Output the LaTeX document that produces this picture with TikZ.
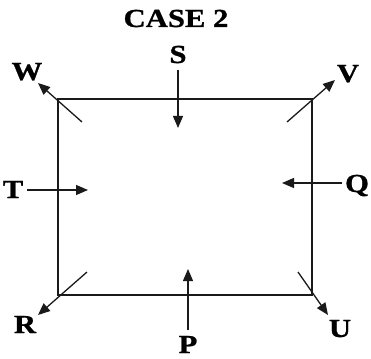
\documentclass[tikz,border=0pt]{standalone}
\usepackage{fontspec}
\setmainfont{Liberation Serif}[FakeStretch=1.18,FakeBold=1]
\usepackage{tikz}
\usetikzlibrary{arrows.meta}
\usepackage{xcolor}
\definecolor{ink}{HTML}{1A1A1A}
\tikzset{
  lbl/.style={font=\fontsize{26}{26}\selectfont\bfseries,inner sep=0pt,
    anchor=base,text=black},
  fedge/.style={-{Triangle[length=12pt,width=10pt]},line width=1.3pt,color=ink},
  frame/.style={line width=1.4pt,color=ink},
}
\begin{document}
\begin{tikzpicture}[x=1pt,y=-1pt]
  \useasboundingbox (0,0) rectangle (371,358);
  \coordinate (nw) at (58,99); \coordinate (ne) at (312,99);
  \coordinate (se) at (312,295); \coordinate (sw) at (58,295);
  \draw[frame] (nw)--(ne)--(se)--(sw)--cycle;
  \node[lbl] (case) at (176,27){CASE 2};
  \node[lbl] (S) at (178,63){S}; \node[lbl] (W) at (27,80){W};
  \node[lbl] (V) at (348,82){V}; \node[lbl] (T) at (13,198){T};
  \node[lbl] (Q) at (357,192){Q}; \node[lbl] (R) at (25,333){R};
  \node[lbl] (P) at (188,353){P}; \node[lbl] (U) at (340,337){U};
  \coordinate (s0) at (178,70); \coordinate (s1) at (178,128);
  \coordinate (w0) at (82,122); \coordinate (w1) at (38,83);
  \coordinate (v0) at (287,122); \coordinate (v1) at (335,80);
  \coordinate (t0) at (27,190); \coordinate (t1) at (88,190);
  \coordinate (q0) at (342,183); \coordinate (q1) at (282,183);
  \coordinate (r0) at (87,272); \coordinate (r1) at (38,315);
  \coordinate (p0) at (188,330); \coordinate (p1) at (188,269);
  \coordinate (u0) at (298,272); \coordinate (u1) at (328,315);
  \draw[fedge] (s0)--(s1); \draw[fedge] (w0)--(w1);
  \draw[fedge] (v0)--(v1); \draw[fedge] (t0)--(t1);
  \draw[fedge] (q0)--(q1); \draw[fedge] (r0)--(r1);
  \draw[fedge] (p0)--(p1); \draw[fedge] (u0)--(u1);
\end{tikzpicture}
\end{document}
